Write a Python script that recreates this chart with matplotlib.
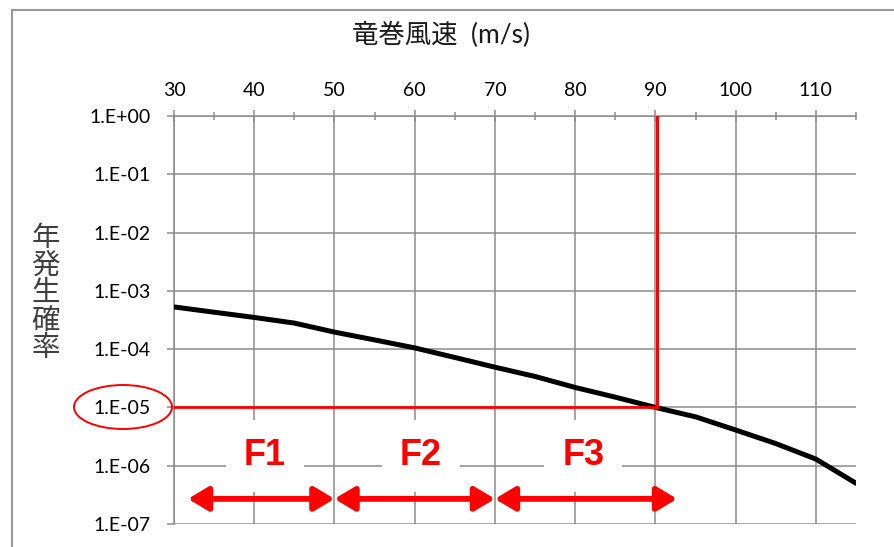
import matplotlib
matplotlib.use("Agg")
import matplotlib.pyplot as plt
from matplotlib.patches import Ellipse
from matplotlib.lines import Line2D
from matplotlib.ticker import FixedLocator, FuncFormatter
import numpy as np

plt.rcParams['font.family'] = ['Lato', 'Noto Sans CJK JP', 'DejaVu Sans']

# 竜巻風速と年発生確率
speed = [30, 35, 40, 45, 50, 55, 60, 65, 70, 75, 80, 85, 90, 95, 100, 105, 110, 115]
prob = [5.3e-4, 4.3e-4, 3.5e-4, 2.8e-4, 1.96e-4, 1.44e-4, 1.05e-4, 7.2e-5, 4.9e-5,
        3.4e-5, 2.2e-5, 1.5e-5, 1.0e-5, 6.9e-6, 4.1e-6, 2.4e-6, 1.3e-6, 5.0e-7]

target_prob = 1e-5
target_speed = 90

scales = ['F1', 'F2', 'F3']
scale_lo = [31.75, 50, 70]
scale_hi = [50, 70, 92.7]
label_x = [41.3, 60.8, 81.0]

xticks = [30, 40, 50, 60, 70, 80, 90, 100, 110]
yticks = [1e0, 1e-1, 1e-2, 1e-3, 1e-4, 1e-5, 1e-6, 1e-7]

fig = plt.figure(figsize=(8.95, 5.47), dpi=100)
ax = fig.add_axes([174 / 895, 1 - 524 / 547, (856 - 174) / 895, (524 - 116) / 547])

grid_c = '#8c8c8c'
ax.set_yscale('log')
ax.set_xlim(30, 115)
ax.set_ylim(1e-7, 1e0)

ax.xaxis.set_major_locator(FixedLocator(xticks))
ax.xaxis.set_minor_locator(FixedLocator(np.arange(35, 116, 10)))
ax.yaxis.set_major_locator(FixedLocator(yticks))
ax.yaxis.set_minor_locator(FixedLocator([]))
ax.yaxis.set_major_formatter(FuncFormatter(
    lambda v, p: '1.E+00' if v >= 1 else '1.E-%02d' % round(-np.log10(v))))

ax.xaxis.tick_top()
ax.tick_params(axis='x', which='major', direction='inout', length=9, width=1.1,
               color=grid_c, labelsize=14, pad=8)
ax.tick_params(axis='x', which='minor', direction='inout', length=6, width=1.1,
               color=grid_c)
ax.tick_params(axis='y', which='major', direction='out', length=5, width=1.1,
               color=grid_c, labelsize=14, pad=12)

for s in ['right', 'bottom']:
    ax.spines[s].set_visible(False)
for s in ['top', 'left']:
    ax.spines[s].set_color(grid_c)
    ax.spines[s].set_linewidth(1.1)

ax.grid(True, which='major', color=grid_c, lw=1.1, zorder=0)
ax.set_axisbelow(True)

ax.plot(speed, prob, color='black', lw=3.6, solid_capstyle='round', zorder=3)

# しきい値の線
ax.plot([30, target_speed], [target_prob, target_prob], color='red', lw=2, zorder=4)
ax.plot([target_speed + 0.2, target_speed + 0.2], [target_prob, 1e0], color='red', lw=2.2, zorder=4)

# Fスケールの範囲
for name, lo, hi, lx in zip(scales, scale_lo, scale_hi, label_x):
    ax.annotate('', xy=(hi, 2.7e-7), xytext=(lo, 2.7e-7),
                arrowprops=dict(arrowstyle='<|-|>,head_length=0.6,head_width=0.36',
                                color='red', lw=4.2, mutation_scale=20,
                                shrinkA=0, shrinkB=0), zorder=5)
    ax.text(lx, 1.47e-6, name, color='red', fontsize=26, fontweight='bold',
            family=['Liberation Sans'], ha='center', va='center', zorder=5,
            bbox=dict(boxstyle='square,pad=0.5', fc='white', ec='none'))

fig.text(441 / 895, 1 - 35 / 547, '竜巻風速  (m/s)', fontsize=19, color='#1a1a1a',
         ha='center', va='center')
fig.text(45.5 / 895, 1 - 293 / 547, '\n'.join('年発生確率'), fontsize=20.5,
         color='#404040', ha='center', va='center', linespacing=1.07)

# 1.E-05 を囲む楕円
fig.add_artist(Ellipse((123 / 895, 1 - 407 / 547), 98 / 895, 44 / 547,
                       transform=fig.transFigure, fill=False, ec='red', lw=1.4))

# 外枠
fig.add_artist(Line2D([12 / 895, 1], [1 - 10 / 547] * 2, transform=fig.transFigure,
                      color='#999999', lw=1.5))
fig.add_artist(Line2D([12 / 895] * 2, [0, 1 - 10 / 547], transform=fig.transFigure,
                      color='#999999', lw=1.5))

fig.savefig('out.png', dpi=100)
